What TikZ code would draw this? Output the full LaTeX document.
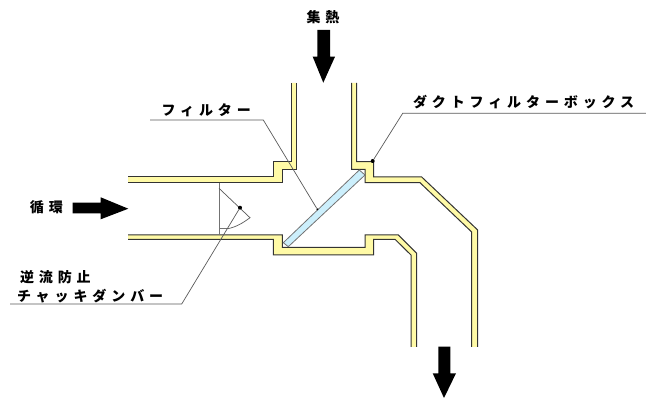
\documentclass[tikz,border=0pt]{standalone}
\usepackage{fontspec}
\newfontfamily\cjk[LetterSpace=35]{Noto Sans CJK JP}
\tikzset{
  label text/.style = {font=\cjk\bfseries\fontsize{14}{16}\selectfont, inner sep=0pt, outer sep=0pt, anchor=west},
  wall fill/.style = {fill=yellow!35!white},
  wall line/.style = {draw=black!80!white, line width=1pt},
  leader/.style = {draw=black!65!white, line width=0.7pt},
  dot/.style = {circle, fill, minimum size=#1, inner sep=0pt, outer sep=0pt},
  dot/.default = 4pt
}
\begin{document}
\begin{tikzpicture}[x=1pt,y=-1pt]
	\useasboundingbox (0,0) rectangle (646,398);

	% Walls
	\fill[wall fill] (128,176.7) -- (273.7,176.7) -- (273.7,161.7) -- (291,161.7) -- (291,83) -- (296.3,83) -- (296.3,169.3) -- (282.7,169.3) -- (282.7,182.7) -- (128,182.7) -- cycle;
	\draw[wall line] (128,176.7) -- (273.7,176.7) -- (273.7,161.7) -- (291,161.7) -- (291,83);
	\draw[wall line] (128,182.7) -- (282.7,182.7) -- (282.7,169.3) -- (296.3,169.3) -- (296.3,83);

	\fill[wall fill] (351.7,83) -- (351.7,169.3) -- (365,169.3) -- (365,182.7) -- (420,182.7) -- (471.7,232) -- (471.7,347) -- (477.7,347) -- (477.7,230) -- (421.7,177) -- (373.5,177) -- (373.5,161.7) -- (356.7,161.7) -- (356.7,83) -- cycle;
	\draw[wall line] (351.7,83) -- (351.7,169.3) -- (365,169.3) -- (365,182.7) -- (420,182.7) -- (471.7,232) -- (471.7,347);
	\draw[wall line] (356.7,83) -- (356.7,161.7) -- (373.5,161.7) -- (373.5,177) -- (421.7,177) -- (477.7,230) -- (477.7,347);

	\fill[wall fill] (128,235) -- (282.3,235) -- (282.3,247.3) -- (365,247.3) -- (365,235) -- (398.3,235) -- (416.7,253.3) -- (416.7,347) -- (411,347) -- (411,255) -- (395,239.3) -- (373.7,239.3) -- (373.7,255) -- (273.3,255) -- (273.3,239.3) -- (128,239.3) -- cycle;
	\draw[wall line] (128,235) -- (282.3,235) -- (282.3,247.3) -- (365,247.3) -- (365,235) -- (398.3,235) -- (416.7,253.3) -- (416.7,347);
	\draw[wall line] (128,239.3) -- (273.3,239.3) -- (273.3,255) -- (373.7,255) -- (373.7,239.3) -- (395,239.3) -- (411,255) -- (411,347);

	% Filter
	\draw[fill=cyan!20!white, draw=black!55!white, line width=0.8pt] (283.3,242.7) -- (288.3,246.7) -- (365,175) -- (359.3,170) -- cycle;

	% Damper
	\draw[draw=black!55!white, line width=1pt] (219,183) -- (219,235);
	\draw[draw=black!55!white, line width=0.8pt] (219,228.7) -- (228,228.7);
	\draw[leader] (219,188.3) -- (250,217.7) .. controls (243,223) and (236,227) .. (228,228.7);

	% Arrows
	\fill[black] (317.3,30) -- (330,30) -- (330,56.7) -- (335,56.7) -- (323.3,82.7) -- (312.7,56.7) -- (317.3,56.7) -- cycle;
	\fill[black] (72.7,202.7) -- (100.7,202.7) -- (100.7,197.3) -- (128.3,208.7) -- (100.7,219.3) -- (100.7,213.3) -- (72.7,213.3) -- cycle;
	\fill[black] (438.3,346.7) -- (450.3,346.7) -- (450.3,373.3) -- (456,373.3) -- (444,398) -- (432.7,373.3) -- (438.3,373.3) -- cycle;

	% Labels
	\node[label text] (heat) at (306.5,17) {集熱};
	\node[label text] (loop) at (30,207) {循環};
	\node[label text] (filter) at (161.5,110.5) {フィルター};
	\node[label text] (box) at (413,102) {ダクトフィルターボックス};
	\node[label text] (check1) at (20,277) {逆流防止};
	\node[label text] (check2) at (17,296) {チャッキダンバー};

	% Leaders
	\node[dot=2pt, black] (filter dot) at (317.3,209.3) {};
	\node[dot, black] (box dot) at (372.7,161) {};
	\node[dot, black] (damper dot) at (240,207.7) {};
	\coordinate (filter end) at (150,120);
	\coordinate (filter bend) at (263.3,120);
	\coordinate (box bend) at (402.7,113.3);
	\coordinate (box end) at (646,113.3);
	\coordinate (check bend) at (181.7,304);
	\coordinate (check end) at (10,304);
	\draw[leader] (filter end) -- (filter bend) -- (filter dot);
	\draw[leader] (box end) -- (box bend) -- (box dot);
	\draw[leader] (check end) -- (check bend) -- (damper dot);
\end{tikzpicture}
\end{document}
